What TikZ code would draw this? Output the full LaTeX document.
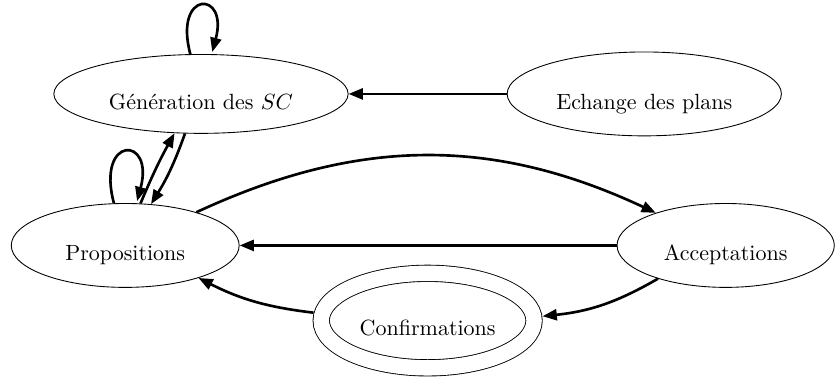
\documentclass[tikz,border=0pt]{standalone}
\usepackage{amsmath,amssymb}
\usepackage{tikz}
\usetikzlibrary{calc, positioning, shapes, arrows.meta, automata}
\tikzstyle{phase}=[ellipse, draw, line width=0.4pt, inner sep=0pt, text height=16pt, text depth=2pt]
\tikzstyle{final phase}=[phase, double, double distance=7pt, outer sep=4pt]
\tikzstyle{transition}=[->, line width=1.2pt]

\begin{document}
\begin{tikzpicture}[>={Triangle[length=6.5pt,width=5pt]}]
		\useasboundingbox (0,0) rectangle (13.40,6.04);
		% The phases
		\node[phase, minimum width=4.70cm, minimum height=1.26cm] (gen) at (3.21, 4.54) {Génération des $SC$};
		\node[phase, minimum width=4.38cm, minimum height=1.34cm] (ech) at (10.29, 4.54) {Echange des plans};
		\node[phase, minimum width=3.64cm, minimum height=1.34cm] (prop) at (2.00, 2.12) {Propositions};
		\node[phase, minimum width=3.47cm, minimum height=1.34cm] (acc) at (11.59, 2.12) {Acceptations};
		\node[final phase, minimum width=3.40cm, minimum height=1.51cm] (conf) at (6.83, 0.92) {Confirmations};

		% Transitions
		\path (ech) edge[transition] (gen);
		\path (gen) edge[transition, loop above] (gen);
		\path (prop) edge[transition, loop above] (prop);
		\path (prop.70) edge[transition, bend left=3] (gen.236);
		\path (gen.248) edge[transition, bend left=6] (prop.58);

		\path (prop) edge[transition, bend left=25] (acc);
		\path (acc) edge[transition] (prop);
		\path (acc) edge[transition, bend left=12] (conf);
		\path (conf) edge[transition, bend left=10] (prop);

	\end{tikzpicture}
\end{document}
